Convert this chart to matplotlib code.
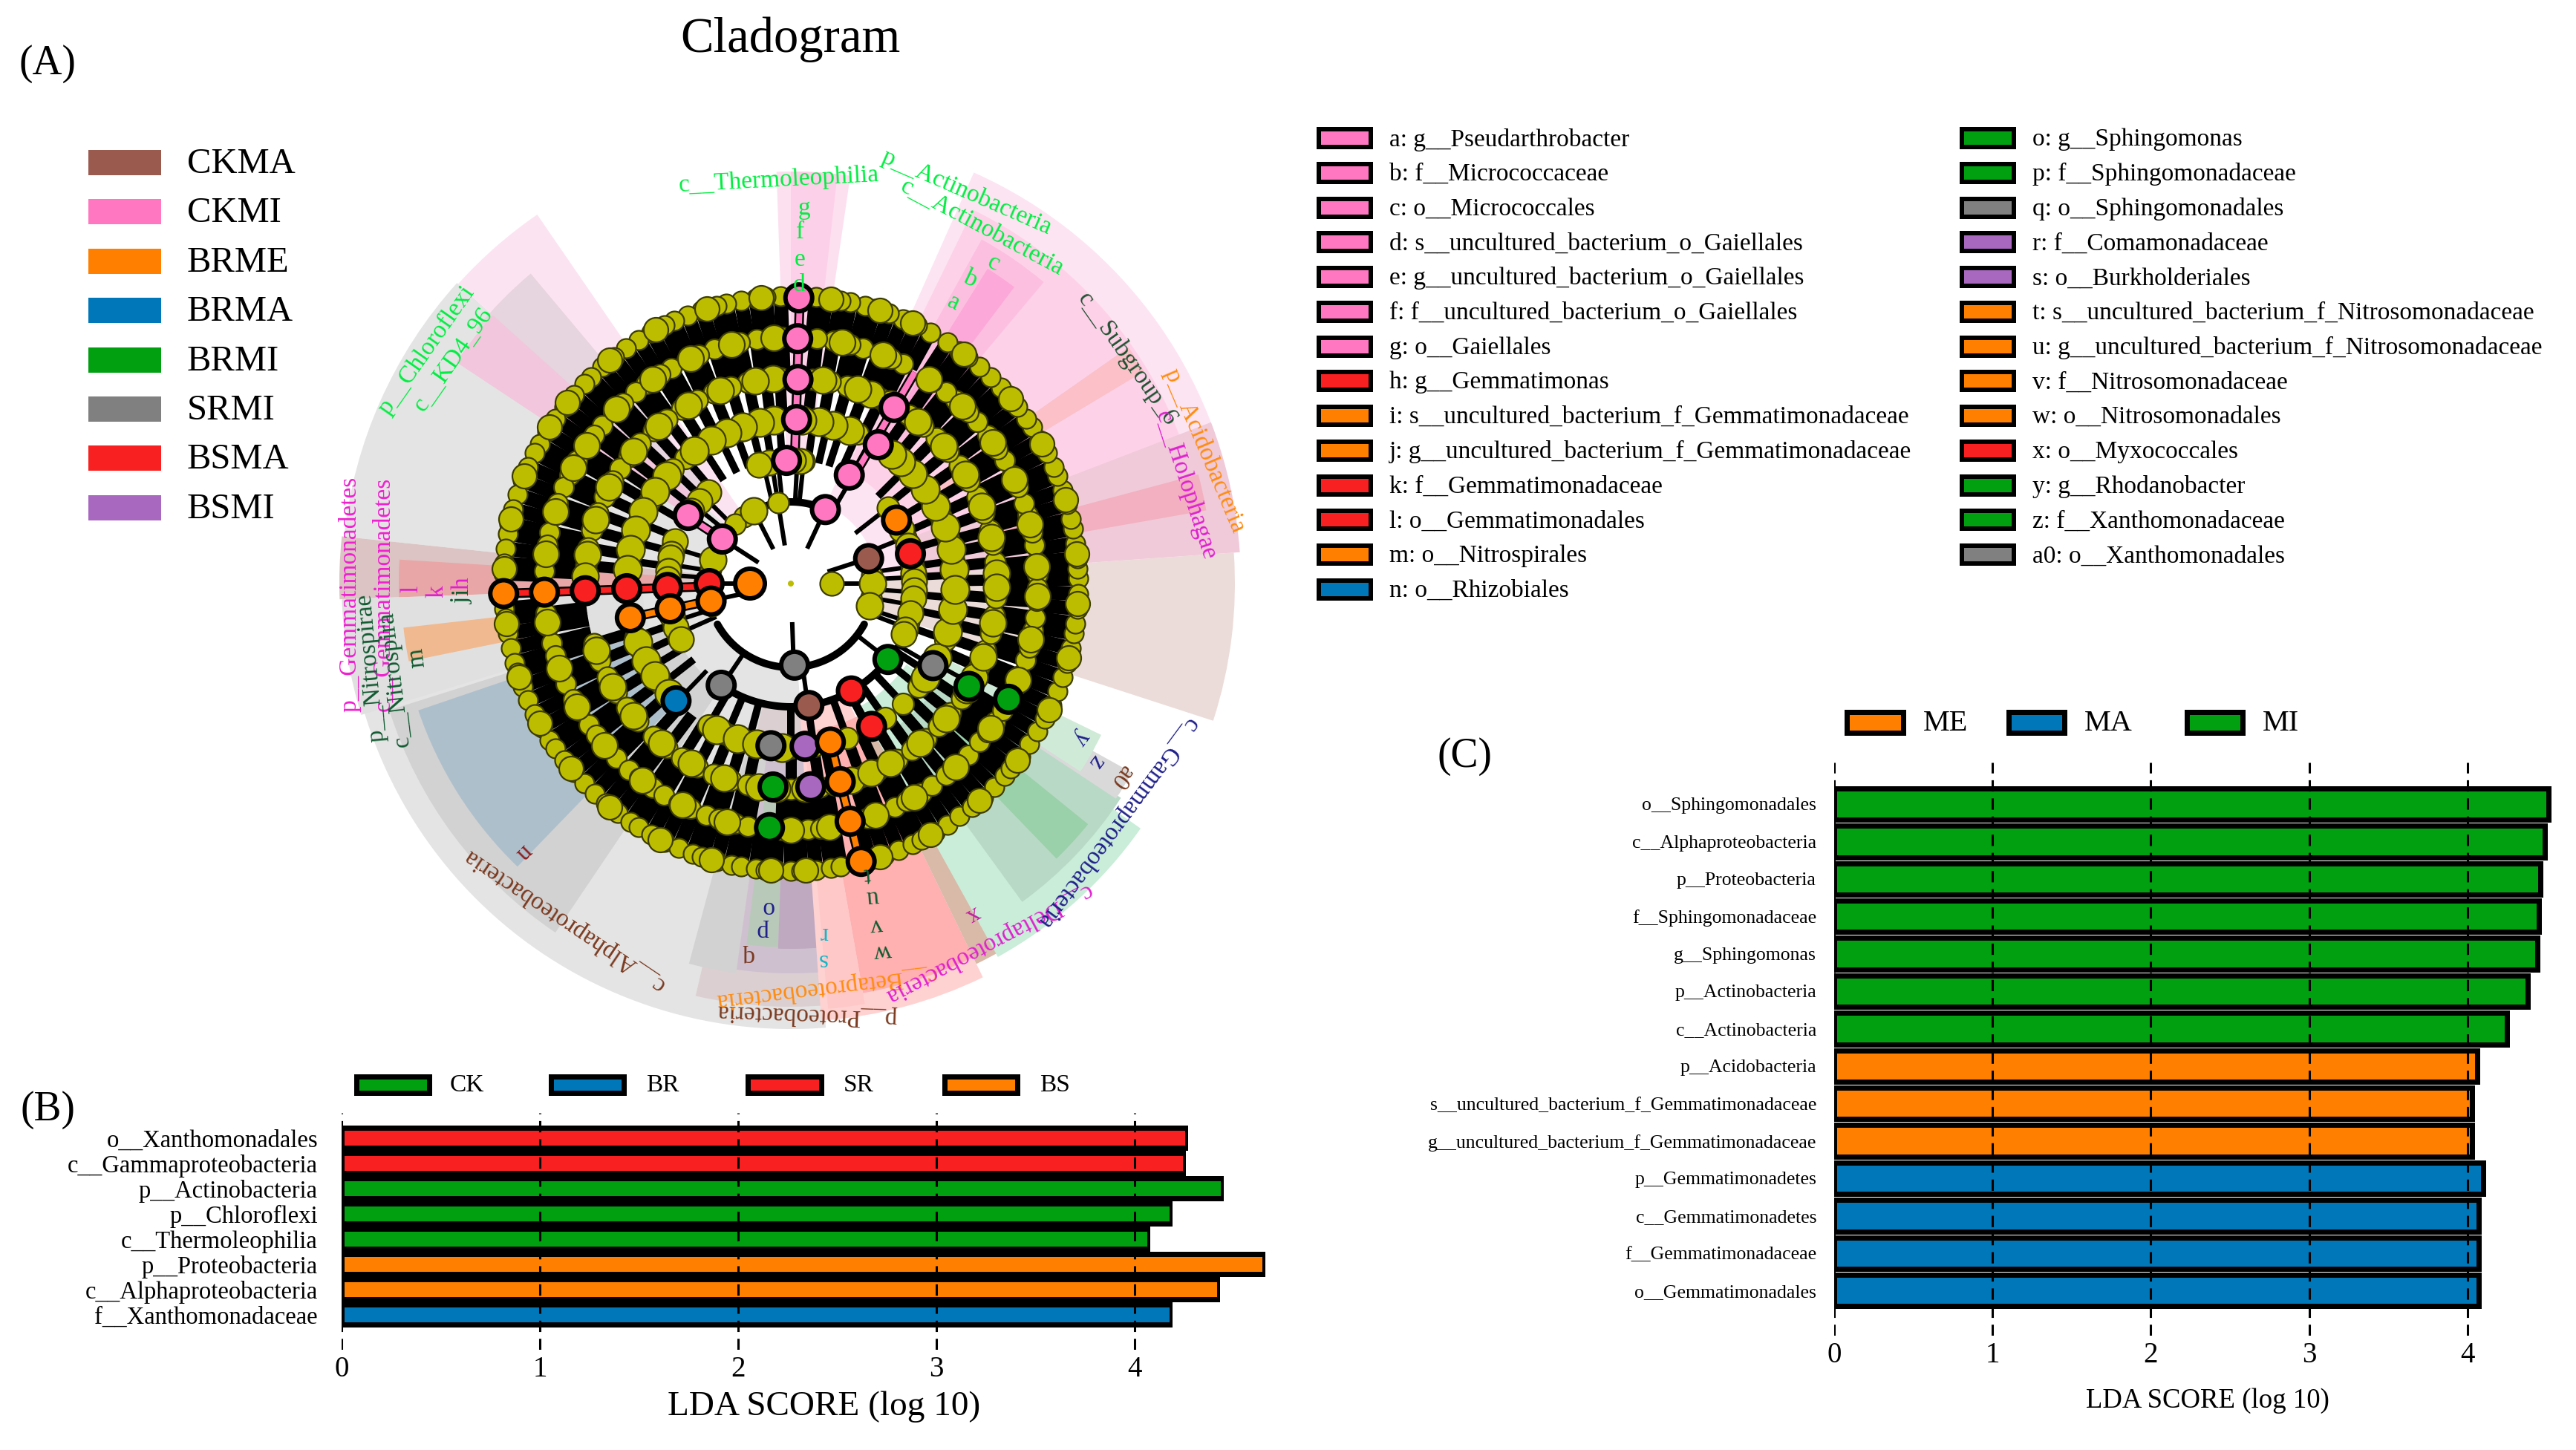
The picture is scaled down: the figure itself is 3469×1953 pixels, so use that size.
import numpy as np
import matplotlib
matplotlib.use("Agg")
import matplotlib.pyplot as plt
from matplotlib.patches import Wedge, Rectangle

plt.rcParams['font.family'] = ['Liberation Serif', 'DejaVu Serif']

W, H = 3469, 1953
CX, CY = 1065, 786

# --- colours ---
C_BROWN, C_PINK, C_ORANGE, C_BLUE = '#9b5a4e', '#ff77c0', '#ff7f00', '#0077b8'
C_GREEN, C_GRAY, C_RED, C_PURPLE = '#00a010', '#808080', '#f82020', '#a868c0'
C_OLIVE = '#bcbc00'

# --- panel B ---
b_labels = ['o__Xanthomonadales', 'c__Gammaproteobacteria', 'p__Actinobacteria', 'p__Chloroflexi',
            'c__Thermoleophilia', 'p__Proteobacteria', 'c__Alphaproteobacteria', 'f__Xanthomonadaceae']
b_values = [4.27, 4.26, 4.45, 4.19, 4.08, 4.66, 4.43, 4.19]
b_colors = [C_RED, C_RED, C_GREEN, C_GREEN, C_GREEN, C_ORANGE, C_ORANGE, C_BLUE]

# --- panel C ---
c_labels = ['o__Sphingomonadales', 'c__Alphaproteobacteria', 'p__Proteobacteria', 'f__Sphingomonadaceae',
            'g__Sphingomonas', 'p__Actinobacteria', 'c__Actinobacteria', 'p__Acidobacteria',
            's__uncultured_bacterium_f_Gemmatimonadaceae', 'g__uncultured_bacterium_f_Gemmatimonadaceae',
            'p__Gemmatimonadetes', 'c__Gemmatimonadetes', 'f__Gemmatimonadaceae', 'o__Gemmatimonadales']
c_values = [4.51, 4.49, 4.46, 4.45, 4.44, 4.38, 4.25, 4.06, 4.03, 4.03, 4.10, 4.07, 4.07, 4.07]
c_colors = [C_GREEN] * 7 + [C_ORANGE] * 3 + [C_BLUE] * 4

# --- legends ---
group_names = ['CKMA', 'CKMI', 'BRME', 'BRMA', 'BRMI', 'SRMI', 'BSMA', 'BSMI']
group_colors = [C_BROWN, C_PINK, C_ORANGE, C_BLUE, C_GREEN, C_GRAY, C_RED, C_PURPLE]

key_left = ['a: g__Pseudarthrobacter', 'b: f__Micrococcaceae', 'c: o__Micrococcales',
            'd: s__uncultured_bacterium_o_Gaiellales', 'e: g__uncultured_bacterium_o_Gaiellales',
            'f: f__uncultured_bacterium_o_Gaiellales', 'g: o__Gaiellales', 'h: g__Gemmatimonas',
            'i: s__uncultured_bacterium_f_Gemmatimonadaceae', 'j: g__uncultured_bacterium_f_Gemmatimonadaceae',
            'k: f__Gemmatimonadaceae', 'l: o__Gemmatimonadales', 'm: o__Nitrospirales', 'n: o__Rhizobiales']
key_left_colors = [C_PINK] * 7 + [C_RED, C_ORANGE, C_ORANGE, C_RED, C_RED, C_ORANGE, C_BLUE]
key_right = ['o: g__Sphingomonas', 'p: f__Sphingomonadaceae', 'q: o__Sphingomonadales', 'r: f__Comamonadaceae',
             's: o__Burkholderiales', 't: s__uncultured_bacterium_f_Nitrosomonadaceae',
             'u: g__uncultured_bacterium_f_Nitrosomonadaceae', 'v: f__Nitrosomonadaceae', 'w: o__Nitrosomonadales',
             'x: o__Myxococcales', 'y: g__Rhodanobacter', 'z: f__Xanthomonadaceae', 'a0: o__Xanthomonadales']
key_right_colors = [C_GREEN, C_GREEN, C_GRAY, C_PURPLE, C_PURPLE, C_ORANGE, C_ORANGE, C_ORANGE, C_ORANGE,
                    C_RED, C_GREEN, C_GREEN, C_GRAY]

# --- cladogram: shaded clades, degrees and pixel radii ---
wedge_start = [182, 197.5, 198.8, 138, 124.5, 130, 138, 174, 176.5, 182, 186.5, 257, 255, 262, 263, 268,
               274, 280, 275, 296, 299, 306, 314, 326.5, 327, 342, 4, 12, 50, 53, 4, 10, 31, 81.7, 83.5]
wedge_stop = [274.5, 236, 226, 174, 138, 141, 146.5, 182, 182, 197, 191.5, 278, 262, 274.5, 268, 274.6,
              296, 296, 280, 299.5, 325, 327, 321, 331, 334, 364, 66, 64, 61, 58, 21, 15, 35, 92, 90]
wedge_inner = [116, 170, 225, 116, 116, 170, 170, 116, 170, 200, 280, 170, 220, 220, 275, 275,
               165, 200, 200, 200, 190, 240, 280, 240, 240, 116, 116, 170, 240, 280, 170, 280, 240, 170, 220]
wedge_outer = [600, 567, 530, 605, 603, 545, 540, 608, 528, 605, 525, 570, 530, 525, 490, 492,
               590, 560, 575, 570, 575, 530, 515, 525, 465, 598, 606, 560, 530, 500, 606, 568, 555, 555, 555]
wedge_color = ['#e4e4e4', '#d2d2d2', '#aebfcc', '#e4e4e4', '#fce3f1', '#e6d4de', '#f2c6dc', '#dcc4c4', '#e8a6a6',
               '#e0e0e0', '#f0b98f', '#dccfd1', '#d2d2d2', '#cfc0d0', '#b9c9b9', '#bfa9c0', '#ffd2d2', '#ffb0b0',
               '#ffc8c8', '#d9b9a8', '#c9edd8', '#b8d9c5', '#9ad0aa', '#d9d9d9', '#d0ead8', '#ebdcd9', '#fde4f2',
               '#fdd2e9', '#fdbfe0', '#fca8d8', '#f0cad9', '#f2b0c0', '#fbc0c8', '#fde0f0', '#fcd0e8']

# --- cladogram: uncoloured nodes per ring, angle in degrees ---
ring7 = [1, 3, 5, 8, 11, 13, 16, 19, 22, 24, 27, 30, 33, 35, 38, 41, 43, 46, 49, 52, 54, 57, 61, 64, 67, 70, 73, 75,
         78, 80, 83, 85, 92, 95, 97, 100, 103, 105, 108, 111, 114, 116, 119, 122, 125, 128, 131, 134, 136, 139, 142,
         145, 148, 151, 153, 156, 159, 162, 165, 168, 170, 173, 176, 178, 185, 187, 190, 193, 196, 198, 201, 204,
         207, 210, 213, 215, 218, 221, 224, 227, 230, 233, 236, 238, 241, 244, 247, 250, 252, 255, 258, 260, 263,
         265, 267, 270, 272, 275, 278, 280, 286, 289, 292, 295, 297, 300, 303, 306, 309, 312, 315, 318, 320, 323,
         326, 329, 332, 335, 338, 341, 344, 347, 350, 352, 355, 358]
ring6 = [2, 5, 9, 12, 16, 19, 23, 26, 30, 33, 37, 41, 44, 48, 51, 55, 63, 66, 69, 73, 76, 80, 84, 92, 95, 98, 102,
         105, 108, 112, 115, 119, 122, 126, 129, 133, 136, 140, 143, 147, 150, 154, 157, 161, 164, 168, 171, 174,
         177, 187, 190, 194, 197, 201, 204, 208, 211, 215, 218, 222, 225, 229, 232, 236, 239, 243, 246, 250, 253,
         257, 260, 268, 271, 274, 277, 280, 288, 291, 295, 298, 302, 305, 309, 313, 316, 320, 323, 326, 329, 335,
         338, 342, 345, 349, 352, 356, 359]
ring5 = [1, 6, 11, 15, 20, 25, 30, 35, 40, 45, 50, 55, 64, 69, 74, 79, 84, 93, 97, 102, 107, 112, 117, 122, 127, 132,
         137, 142, 146, 150, 155, 160, 165, 170, 175, 197, 202, 207, 212, 217, 222, 228, 233, 238, 243, 248, 253,
         258, 270, 278, 282, 290, 295, 301, 306, 311, 316, 321, 326, 336, 341, 346, 351, 356]
ring4 = [3, 8, 16, 24, 31, 39, 45, 66, 72, 77, 82, 94, 99, 104, 110, 116, 123, 130, 136, 142, 150, 158, 165, 172,
         199, 205, 211, 218, 240, 247, 255, 270, 278, 290, 298, 305, 313, 321, 327, 340, 348, 355]
ring3 = [84, 87, 96, 99, 103, 135, 141, 163, 171, 176, 198, 204, 38, 22, 8, 3, 356, 350, 342, 339]
ring2 = [99, 117, 125, 133, 163, 170, 196, 0, 6, 344, 350]
ring1 = [0]

# larger, crowding nodes on the same rings
ring7_big = [6, 17, 29, 40, 53, 65, 72, 82, 96, 107, 118, 129, 141, 147, 158, 167, 177, 188, 199, 209, 220, 231, 243,
             254, 266, 273, 288, 299, 311, 322, 334, 345, 356]
ring6_big = [4, 14, 25, 35, 46, 56, 68, 78, 94, 104, 114, 124, 135, 146, 152, 163, 173, 189, 200, 210, 221, 233, 244,
             255, 270, 279, 290, 300, 312, 324, 337, 347, 357]
ring5_big = [3, 13, 22, 32, 42, 52, 61, 67, 71, 81, 95, 100, 110, 120, 130, 140, 152, 162, 172, 178, 199, 210, 220,
             231, 241, 251, 261, 266, 274, 287, 293, 299, 309, 319, 329, 333, 339, 349, 359]
ring4_big = [5, 12, 20, 28, 35, 42, 48, 52, 69, 75, 80, 86, 96, 101, 107, 113, 119, 126, 139, 146, 154, 161, 168, 175,
             201, 208, 214, 222, 243, 251, 258, 267, 325, 333, 343, 351, 358]
ring3_big = [85.5, 89, 94, 100, 105, 132, 138, 144, 160, 166, 168, 174, 178, 195, 201, 207, 26, 18, 12, 5, 1, 357, 353,
             346, 338, 336]
ring2_big = [117, 163, 0, 344]

# --- cladogram: coloured nodes ---
node_theta = [180, 65, 147, 92, 61.7, 146.4, 88, 57.8, 88, 59.6, 88.4, 88.4,
              17.8, 272.6, 235.6, 278.4, 322, 299.4, 14, 299.5, 181.8, 181.8, 182, 182, 182, 180,
              192.4, 191.8, 192, 31, 225.6, 263, 275, 284, 275.6, 284, 284, 284.2,
              265, 265, 330, 330, 332]
node_r = [55, 110, 110, 166, 166, 166, 221, 221, 275, 275, 330, 385,
          110, 110, 166, 166, 166, 166, 166, 221, 166, 221, 277, 332, 387, 110,
          110, 166, 221, 166, 221, 220, 220, 220, 275, 275, 330, 386,
          275, 330, 221, 277, 332]
node_color = [C_ORANGE, C_PINK, C_PINK, C_PINK, C_PINK, C_PINK, C_PINK, C_PINK, C_PINK, C_PINK, C_PINK, C_PINK,
              C_BROWN, C_GRAY, C_GRAY, C_BROWN, C_GREEN, C_RED, C_RED, C_RED, C_RED, C_RED, C_RED, C_ORANGE,
              C_ORANGE, C_RED, C_ORANGE, C_ORANGE, C_ORANGE, C_ORANGE, C_BLUE, C_GRAY, C_PURPLE, C_ORANGE,
              C_PURPLE, C_ORANGE, C_ORANGE, C_ORANGE, C_GREEN, C_GREEN, C_GRAY, C_GREEN, C_GREEN]

# --- cladogram: black branches ---
arc_radius = [113, 113, 166, 166, 221, 277, 166, 221, 110]
arc_start = [209, 271, 235, 278, 322, 329, 24, 58, 65]
arc_stop = [271, 331, 278, 322, 331, 331, 38, 66, 117]
spoke_theta = [0, 180, 272, 65, 117, 147, 99, 18, 278, 236, 226, 60, 61, 88, 322, 299, 330, 192, 331]
spoke_from = [55, 55, 55, 55, 55, 55, 55, 55, 113, 113, 166, 110, 166, 166, 113, 166, 166, 55, 221]
spoke_to = [110, 110, 113, 110, 110, 110, 110, 110, 166, 166, 221, 166, 221, 221, 166, 221, 221, 110, 277]

# --- coloured highlighted branches ---
path_theta = [88.2, 59.6, 182, 192, 284, 147]
path_from = [166, 166, 110, 110, 220, 110]
path_to = [385, 330, 387, 221, 386, 166]
path_color = [C_PINK, C_PINK, C_RED, C_ORANGE, C_ORANGE, C_PINK]

# --- cladogram labels, page pixels ---
clade_text = ['c__Thermoleophilia', 'p__Actinobacteria', 'c__Actinobacteria', 'a', 'b', 'c', 'g', 'f', 'e', 'd',
              'c__Subgroup_6', 'p__Acidobacteria', 'c__Holophagae', 'p__Chloroflexi', 'c__KD4_96',
              'p__Gemmatimonadetes', 'c__Gemmatimonadetes', 'p__Nitrospirae', 'c__Nitrospira', 'l', 'k', 'j', 'h', 'i',
              'm', 'n', 'c__Alphaproteobacteria', 'p__Proteobacteria', 'c__Betaproteobacteria',
              'c__Deltaproteobacteria', 'c__Gammaproteobacteria', 'y', 'z', 'a0', 'x', 'o', 'p', 'q', 'r', 's',
              't', 'u', 'v', 'w']
clade_x = [1049, 1302, 1323, 1284, 1307, 1338, 1083, 1078, 1077, 1076, 1518, 1622, 1597, 574, 610, 471, 516, 500, 531,
           554, 588, 622, 622, 622, 562, 705, 759, 1087, 1112, 1331, 1505, 1456, 1476, 1510, 1311, 1033, 1027, 1006,
           1110, 1107, 1168, 1175, 1180, 1189]
clade_y = [243, 259, 306, 408, 376, 355, 281, 313, 350, 384, 484, 607, 654, 472, 484, 800, 800, 900, 915, 793, 797,
           808, 786, 797, 886, 1148, 1239, 1366, 1330, 1271, 1109, 994, 1026, 1046, 1231, 1222, 1253, 1287, 1257,
           1293, 1178, 1208, 1246, 1281]
clade_rot = [3, -23.5, -28, -25, -25, -25, 0, 0, 0, 0, -55, -67, -72, 55, 55, 90, 90, 95, 97, 90, 90, 90, 90, 90, 97,
             225, 146, 178, 187, 208, 233.5, 233, 233, 233, 210, 180, 180, 180, 180, 180, 185, 185, 185, 185]
clade_color = ['#00ee40', '#00ee40', '#00ee40', '#00ee40', '#00ee40', '#00ee40', '#00ee40', '#00ee40', '#00ee40',
               '#00ee40', '#1f5030', '#ff8c10', '#e020d0', '#00ee40', '#00ee40', '#f020d0', '#f020d0', '#105a30',
               '#105a30', '#e020d0', '#e020d0', '#105a30', '#e020d0', '#105a30', '#105a30', '#8a2020', '#7a3a20',
               '#7a3a20', '#ff8c10', '#e020d0', '#20208a', '#20208a', '#20208a', '#7a3a20', '#c020a0', '#20208a',
               '#20208a', '#7a3a20', '#10b8c8', '#10b8c8', '#105a30', '#105a30', '#105a30', '#105a30']

PX = 72.0 / 100  # one figure pixel in points at dpi 100


def polar(theta, r):
    t = np.radians(theta)
    return r * np.cos(t), r * np.sin(t)


fig = plt.figure(figsize=(W / 100, H / 100), dpi=100, facecolor='white')

# --- cladogram, 1 data unit = 1 pixel, origin at the root ---
ax = fig.add_axes([0, 0, 1, 1])
ax.set_xlim(-CX, W - CX)
ax.set_ylim(-(H - CY), CY)
ax.axis('off')

for a, b, ri, ro, col in zip(wedge_start, wedge_stop, wedge_inner, wedge_outer, wedge_color):
    ax.add_patch(Wedge((0, 0), ro, a, b, width=ro - ri, fc=col, ec='none', zorder=1))


def spokes(angles, r0, r1, width):
    for th in angles:
        x0, y0 = polar(th, r0)
        x1, y1 = polar(th, r1)
        ax.plot([x0, x1], [y0, y1], color='black', lw=width * PX, solid_capstyle='butt', zorder=2)


spokes(ring7, 332, 387, 19)
spokes(ring6, 277, 332, 19)
spokes(ring5, 221, 277, 15)
spokes(ring4, 166, 221, 10)
spokes(ring3, 110, 166, 6)

for rad, a, b in zip(arc_radius, arc_start, arc_stop):
    th = np.linspace(a, b, 120)
    x, y = polar(th, rad)
    ax.plot(x, y, color='black', lw=10 * PX, solid_capstyle='round', zorder=2.5)
for th, r0, r1 in zip(spoke_theta, spoke_from, spoke_to):
    x, y = polar(np.array([th, th]), np.array([r0, r1]))
    ax.plot(x, y, color='black', lw=6 * PX, zorder=2.5)
for th, r0, r1, col in zip(path_theta, path_from, path_to, path_color):
    x, y = polar(np.array([th, th]), np.array([r0, r1]))
    ax.plot(x, y, color='black', lw=13 * PX, solid_capstyle='butt', zorder=2.6)
    ax.plot(x, y, color=col, lw=8 * PX, solid_capstyle='butt', zorder=2.7)

# olive nodes, outer ring first, diameters in pixels
olive_groups = [(ring7, 387, 26), (ring7_big, 387, 33), (ring6, 332, 27), (ring6_big, 332, 35),
                (ring5, 277, 28), (ring5_big, 277, 36), (ring4, 221, 29), (ring4_big, 221, 38),
                (ring3, 166, 30), (ring3_big, 166, 34), (ring2, 110, 28), (ring2_big, 110, 36),
                (ring1, 55, 32)]
for angles, rad, d in olive_groups:
    x, y = polar(np.array(angles, dtype=float), rad)
    ax.scatter(x, y, s=(d * PX) ** 2, color=C_OLIVE, edgecolors='#3c3c00', linewidths=2.2 * PX, zorder=3)
ax.scatter([0], [0], s=(8 * PX) ** 2, color=C_OLIVE, edgecolors='none', zorder=3)

# coloured nodes
node_x, node_y = polar(np.array(node_theta, dtype=float), np.array(node_r, dtype=float))
node_size = [(40 if r < 60 else 36) * PX for r in node_r]
ax.scatter(node_x, node_y, s=np.array(node_size) ** 2, c=node_color, edgecolors='black', linewidths=6 * PX, zorder=4)

# --- page overlay in pixel coordinates ---
page = fig.add_axes([0, 0, 1, 1])
page.set_xlim(0, W)
page.set_ylim(H, 0)
page.axis('off')
page.patch.set_alpha(0)

for s, x, y, r, c in zip(clade_text, clade_x, clade_y, clade_rot, clade_color):
    page.text(x, y, s, rotation=r, color=c, fontsize=24, ha='center', va='center', rotation_mode='anchor')

page.text(1064, 53, 'Cladogram', fontsize=48, ha='center', va='center')
page.text(64, 86, '(A)', fontsize=40, ha='center', va='center')
page.text(64, 1495, '(B)', fontsize=40, ha='center', va='center')
page.text(1973, 1019, '(C)', fontsize=40, ha='center', va='center')

# group legend
for i, (name, col) in enumerate(zip(group_names, group_colors)):
    yc = 219 + i * 66.4
    page.add_patch(Rectangle((119, yc - 17), 98, 34, fc=col, ec='none'))
    page.text(252, yc + 2, name, fontsize=35, va='center')

# letter key
for col_x, text_x, names, cols in [(1776, 1871, key_left, key_left_colors),
                                   (2642, 2737, key_right, key_right_colors)]:
    for i, (name, col) in enumerate(zip(names, cols)):
        yc = 186 + i * 46.75
        page.add_patch(Rectangle((col_x, yc - 12), 70, 24, fc=col, ec='black', lw=6 * PX))
        page.text(text_x, yc + 2, name, fontsize=24, va='center')


def swatch(x0, x1, yc, h, col, lw):
    page.add_patch(Rectangle((x0, yc - h / 2), x1 - x0, h, fc=col, ec='black', lw=lw * PX))


# panel B legend
for x0, x1, tx, name, col in [(480, 578, 606, 'CK', C_GREEN), (742, 840, 870, 'BR', C_BLUE),
                              (1007, 1106, 1136, 'SR', C_RED), (1272, 1370, 1400, 'BS', C_ORANGE)]:
    swatch(x0, x1, 1461, 22, col, 7)
    page.text(tx, 1462, name, fontsize=24, va='center')

# panel C legend
for x0, x1, tx, name, col in [(2487, 2563, 2590, 'ME', C_ORANGE), (2705, 2780, 2807, 'MA', C_BLUE),
                              (2945, 3020, 3047, 'MI', C_GREEN)]:
    swatch(x0, x1, 973, 28, col, 7)
    page.text(tx, 975, name, fontsize=29, va='center')


def bar_axes(x0, unit, x1, top, bottom, first, step):
    ab = fig.add_axes([x0 / W, 1 - bottom / H, (x1 - x0) / W, (bottom - top) / H])
    ab.set_xlim(0, (x1 - x0) / unit)
    ab.set_ylim((bottom - first) / step, (top - first) / step)
    ab.patch.set_alpha(0)
    for sp in ab.spines.values():
        sp.set_visible(False)
    return ab


# --- panel B bars ---
ax_b = bar_axes(460, 267, 1720, 1499, 1818, 1533, 34)
yb = np.arange(len(b_values))
ax_b.barh(yb, b_values, height=1.0, color='black', zorder=1)
ax_b.barh(yb, np.array(b_values) - 0.03, left=0.015, height=0.6, color=b_colors, zorder=2)
for t in range(5):
    ax_b.axvline(t, color='black', lw=2.2, ls=(0, (5, 3)), zorder=3)
ax_b.set_yticks(yb, b_labels)
ax_b.set_xticks(range(5))
ax_b.tick_params(axis='y', length=0, labelsize=23.5, pad=32 * PX)
ax_b.tick_params(axis='x', length=0, labelsize=28, pad=8 * PX)
page.text(1110, 1895, 'LDA SCORE (log 10)', fontsize=34, ha='center', va='center')

# --- panel C bars ---
ax_c = bar_axes(2470, 213.2, 3450, 1027, 1799, 1083, 50.4)
yc = np.arange(len(c_values))
ax_c.barh(yc, c_values, height=0.84, color=c_colors, edgecolor='black', linewidth=7 * PX, zorder=2)
for t in range(5):
    ax_c.axvline(t, color='black', lw=2.2, ls=(0, (5, 3)), zorder=3)
ax_c.set_yticks(yc, c_labels)
ax_c.set_xticks(range(5))
ax_c.tick_params(axis='y', length=0, labelsize=18.5, pad=24 * PX)
ax_c.tick_params(axis='x', length=0, labelsize=28, pad=8 * PX)
page.text(2973, 1887, 'LDA SCORE (log 10)', fontsize=26.5, ha='center', va='center')

fig.savefig('out.png', dpi=100)
